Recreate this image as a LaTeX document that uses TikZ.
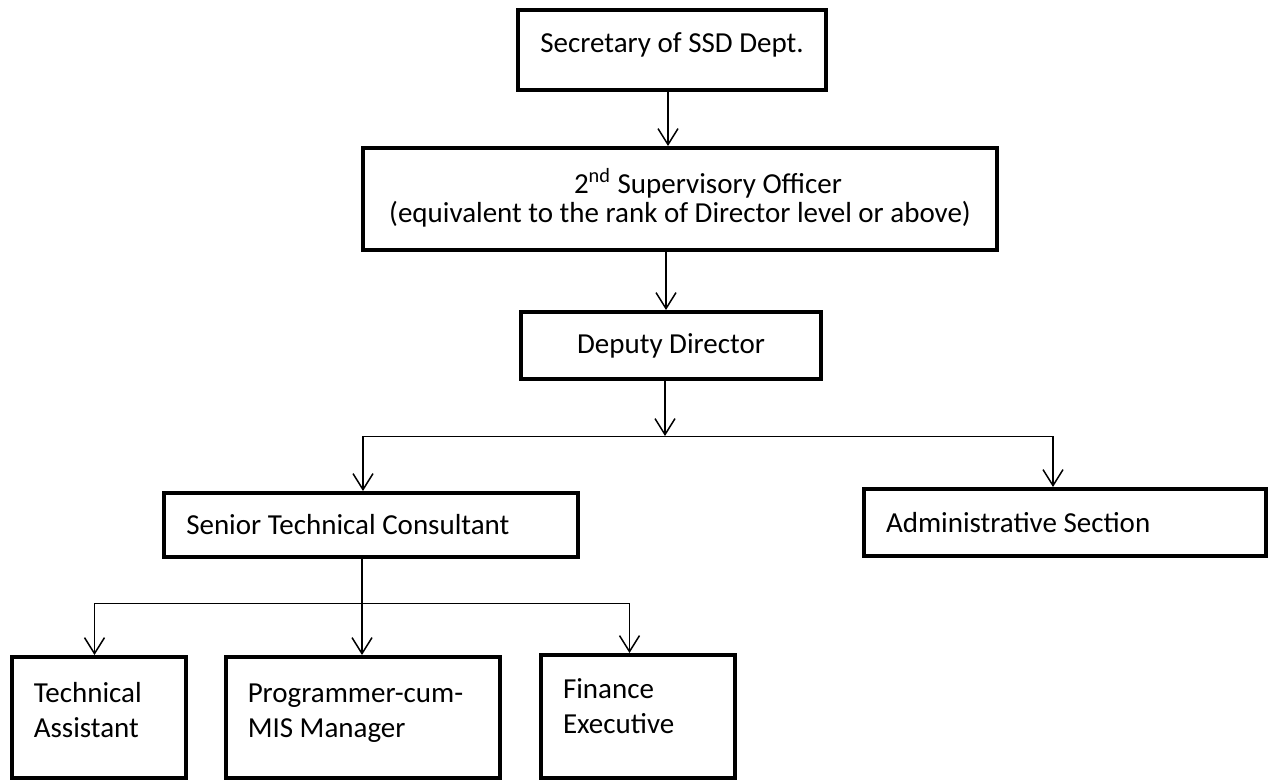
\documentclass[tikz,border=0pt]{standalone}
\usepackage{fontspec}
\setmainfont{Carlito}
\usepackage{tikz}
\usetikzlibrary{arrows.meta}
\tikzstyle{post}=[draw, line width=2pt, inner xsep=11pt, inner ysep=0pt,
                    font=\fontsize{14.5}{17.5}\selectfont]
\tikzstyle{tall}=[text height=22.5pt, text depth=38pt, align=flush left]
\tikzstyle{arr}=[line width=0.75pt, -{Straight Barb[length=8pt, width=10pt]}]

\begin{document}
\begin{tikzpicture}[x=0.5pt, y=-0.5pt]
    \useasboundingbox (0,0) rectangle (1268,782);
    \node[post, minimum width=152.5pt, minimum height=40pt, text height=21pt,
          text depth=19pt] (sec) at (672,50) {Secretary of SSD Dept.};
    \node[post, minimum width=317pt, minimum height=51pt, text height=37pt,
          text depth=14pt, align=center, font=\fontsize{14.5}{14.5}\selectfont] (sup) at (680,199)
      {\hspace*{28pt}2\textsuperscript{nd} Supervisory Officer\\
       (equivalent to the rank of Director level or above)};
    \node[post, minimum width=150pt, minimum height=33.5pt] (dep) at (671,345.5)
      {Deputy Director};
    \node[post, text width=184.75pt, minimum height=32pt, align=flush left] (stc) at (371,525)
      {Senior Technical Consultant};
    \node[post, text width=179pt, minimum height=33.5pt, align=flush left] (adm) at (1065,522.5)
      {Administrative Section};
    \node[post, tall, text width=65.2pt, minimum height=60.5pt] (tas) at (99,717.5)
      {Technical\\ Assistant};
    \node[post, tall, text width=115.25pt, minimum height=60.5pt] (prg) at (363,717.5)
      {Programmer-cum-\\ MIS Manager};
    \node[post, tall, text width=75pt, minimum height=61.5pt, text height=21.5pt,
          text depth=40pt] (fin) at (638,716.5)
      {Finance\\ Executive};
    \coordinate (a1) at (668,0);
    \coordinate (a2) at (666,0);
    \coordinate (b0) at (363,436);
    \coordinate (b1) at (665,436);
    \coordinate (b2) at (1053,436);
    \coordinate (c0) at (94.5,603);
    \coordinate (c1) at (362,603);
    \coordinate (c2) at (629.5,603);
    \draw[arr] (sec.south -| a1) -- (sup.north -| a1);
    \draw[arr] (sup.south -| a2) -- (dep.north -| a2);
    \draw[arr] (dep.south -| b1) -- (b1);
    \draw (b0) -- (b2);
    \draw (c0) -- (c2);
    \foreach \from/\to in {b0/stc, b2/adm, c0/tas, c2/fin}
      \draw[arr] (\from) -- (\from |- \to.north);
    \draw[arr] (stc.south -| c1) -- (c1 |- prg.north);
\end{tikzpicture}
\end{document}
